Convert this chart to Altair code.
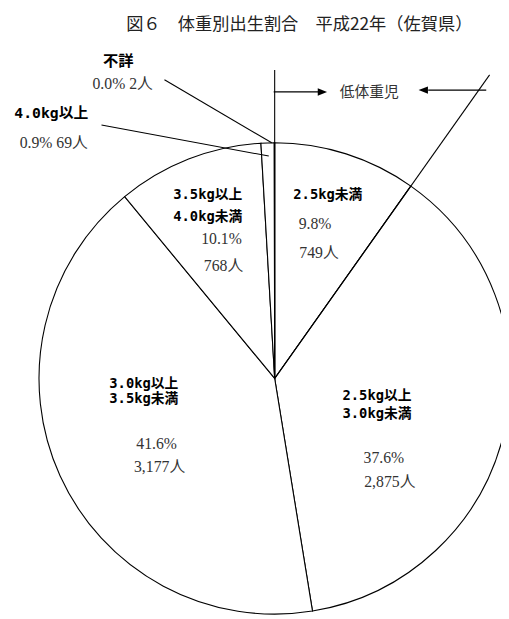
import math
import altair as alt
import pandas as pd
import numpy as np

# ---- data ----
title_text = "図６　体重別出生割合　平成22年（佐賀県）"
name_line1 = ["2.5kg未満", "2.5kg以上", "3.0kg以上", "3.5kg以上", "4.0kg以上", "不詳"]
name_line2 = ["", "3.0kg未満", "3.5kg未満", "4.0kg未満", "", ""]
percents = ["9.8%", "37.6%", "41.6%", "10.1%", "0.9%", "0.0%"]
counts = [749, 2875, 3177, 768, 69, 2]
low_weight_label = "低体重児"

# ---- layout (pixels inside the chart) ----
CX, CY, R = 271, 371.5, 239.5
W, H = 501, 611

total = sum(counts)
cum = np.cumsum(counts) / total * 2 * math.pi
low_end_angle = cum[0]

pie_df = pd.DataFrame({"idx": list(range(len(counts))), "count": counts})
pie = alt.Chart(pie_df).mark_arc(
    outerRadius=R, fill="white", stroke="black", strokeWidth=1.1
).encode(
    theta=alt.Theta("count:Q", stack=True),
    order=alt.Order("idx:Q", sort="ascending"),
    x=alt.value(CX),
    y=alt.value(CY),
)

# extension lines of the 低体重児 slice boundaries, derived from the data angles
L_vert, L_diag = 313.5, 378
line_rows = [
    dict(x=CX, y=CY, x2=CX + L_vert * math.sin(0), y2=CY - L_vert * math.cos(0)),
    dict(x=CX, y=CY, x2=CX + L_diag * math.sin(low_end_angle), y2=CY - L_diag * math.cos(low_end_angle)),
    # leader lines
    dict(x=159, y=68, x2=268, y2=132),
    dict(x=95, y=114, x2=265, y2=145.5),
    # arrow shafts
    dict(x=270, y=80.3, x2=317, y2=80.3),
    dict(x=427, y=78.5, x2=486, y2=78.5),
]
lines_df = pd.DataFrame(line_rows)
lines = alt.Chart(lines_df).mark_rule(color="black", strokeWidth=1.1).encode(
    x=alt.X("x:Q", scale=None, axis=None),
    y=alt.Y("y:Q", scale=None, axis=None),
    x2="x2:Q",
    y2="y2:Q",
)

heads_df = pd.DataFrame([
    dict(x=319.5, y=80.3, dir="r"),
    dict(x=422, y=78.5, dir="l"),
])
head_r = alt.Chart(heads_df[heads_df.dir == "r"]).mark_point(
    shape="M-1,-0.8L1,0L-1,0.8Z", filled=True, color="black", size=90, opacity=1
).encode(x=alt.X("x:Q", scale=None, axis=None), y=alt.Y("y:Q", scale=None, axis=None))
head_l = alt.Chart(heads_df[heads_df.dir == "l"]).mark_point(
    shape="M1,-0.8L-1,0L1,0.8Z", filled=True, color="black", size=90, opacity=1
).encode(x=alt.X("x:Q", scale=None, axis=None), y=alt.Y("y:Q", scale=None, axis=None))

# ---- labels: per-slice layout (x, y line1, y line2, font size) ----
name_pos = {
    0: (325, 185, None, 14),
    1: (375, 389, 408, 14),
    2: (138, 377.5, 392.5, 14),
    3: (203, 185, 207, 14),
    4: (44, 102, None, 15),
    5: (112, 49, None, 15.5),
}
num_pos = {  # (x,y percent), (x,y count) ; None for count -> same line
    0: ((312, 215), (316, 244)),
    1: ((382, 452), (388, 477)),
    2: ((151, 438), (154, 462)),
    3: ((217, 230), (219, 257)),
    4: ((46.5, 132), None),
    5: ((116.5, 72), None),
}

name_rows = []
for i in range(len(counts)):
    x, y1, y2, fs = name_pos[i]
    name_rows.append(dict(x=x, y=y1, t=name_line1[i], fs=fs))
    if name_line2[i]:
        name_rows.append(dict(x=x, y=y2, t=name_line2[i], fs=fs))
num_rows = []
for i in range(len(counts)):
    p, c = num_pos[i]
    cnt = f"{counts[i]:,}人"
    if c is None:
        num_rows.append(dict(x=p[0], y=p[1], t=f"{percents[i]} {cnt}"))
    else:
        num_rows.append(dict(x=p[0], y=p[1], t=percents[i]))
        num_rows.append(dict(x=c[0], y=c[1], t=cnt))

names = alt.Chart(pd.DataFrame(name_rows)).mark_text(
    font="DejaVu Sans Mono, Noto Sans CJK JP", fontWeight="bold", color="black",
    align="center", baseline="middle",
).encode(
    x=alt.X("x:Q", scale=None, axis=None), y=alt.Y("y:Q", scale=None, axis=None),
    text="t:N", size=alt.Size("fs:Q", scale=None, legend=None),
)

nums = alt.Chart(pd.DataFrame(num_rows)).mark_text(
    font="Liberation Serif, Noto Sans CJK JP", fontSize=16, color="#333333",
    align="center", baseline="middle",
).encode(x=alt.X("x:Q", scale=None, axis=None), y=alt.Y("y:Q", scale=None, axis=None), text="t:N")

misc_df = pd.DataFrame([
    dict(x=296, y=12, t=title_text),
    dict(x=367, y=80, t=low_weight_label),
])
title_mark = alt.Chart(misc_df.iloc[[0]]).mark_text(
    font="Noto Sans CJK JP", fontSize=17.5, color="#222222", align="center", baseline="middle",
).encode(x=alt.X("x:Q", scale=None, axis=None), y=alt.Y("y:Q", scale=None, axis=None), text="t:N")
low_mark = alt.Chart(misc_df.iloc[[1]]).mark_text(
    font="Noto Sans CJK JP", fontSize=15, color="#333333", align="center", baseline="middle",
).encode(x=alt.X("x:Q", scale=None, axis=None), y=alt.Y("y:Q", scale=None, axis=None), text="t:N")

chart = alt.layer(pie, lines, head_r, head_l, names, nums, title_mark, low_mark).properties(
    width=W, height=H, autosize=alt.AutoSizeParams(type="none"), padding=0,
    background="white",
).configure_view(stroke=None)

chart.save("out.html", embed_options={"renderer": "svg", "actions": False})
